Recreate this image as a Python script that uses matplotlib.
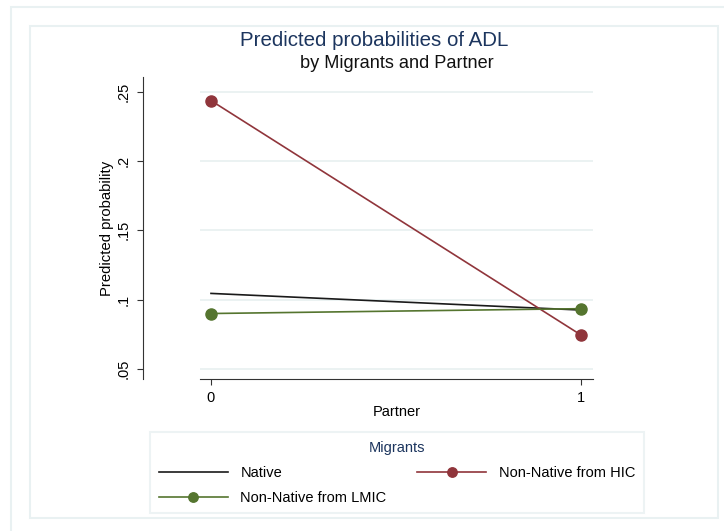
import matplotlib.pyplot as plt
from matplotlib.patches import Rectangle

# data
partner = [0, 1]
native = [0.1045, 0.0925]
hic = [0.2435, 0.0745]
lmic = [0.0900, 0.0935]
yticks = [0.05, 0.10, 0.15, 0.20, 0.25]
ytick_labels = [".05", ".1", ".15", ".2", ".25"]

plt.rcParams['font.family'] = ['Liberation Sans', 'DejaVu Sans']

W, H = 724, 531
fig = plt.figure(figsize=(W / 100, H / 100), dpi=100)

def fx(px):
    return px / W

def fy(py):
    return 1 - py / H

frame_col = '#e9f1f2'
# outer and inner frames
fig.add_artist(Rectangle((fx(11), fy(540)), fx(740 - 11), fy(7) - fy(540),
                         transform=fig.transFigure, fill=False, ec=frame_col, lw=1.5))
fig.add_artist(Rectangle((fx(30), fy(518)), fx(718 - 30), fy(26) - fy(518),
                         transform=fig.transFigure, fill=False, ec=frame_col, lw=1.5))

ax = fig.add_axes([fx(200), fy(379), fx(593 - 200), fy(77) - fy(379)])

navy = '#1c355e'
c_native = '#1a1a1a'
c_hic = '#90353b'
c_lmic = '#55752f'

l_native, = ax.plot(partner, native, color=c_native, lw=1.2, label='Native')
l_hic, = ax.plot(partner, hic, color=c_hic, lw=1.2, marker='o', ms=8, label='Non-Native from HIC')
l_lmic, = ax.plot(partner, lmic, color=c_lmic, lw=1.2, marker='o', ms=8, label='Non-Native from LMIC')

for s in ['top', 'right']:
    ax.spines[s].set_visible(False)
# spine offset in points: 57 px at 100 dpi
ax.spines['left'].set_position(('outward', 57 * 0.72))
ax.spines['left'].set_color('#333333')
ax.spines['bottom'].set_color('#333333')

ax.set_xlim(-0.0297, 1.0324)
ax.set_ylim(0.0428, 0.2605)
ax.set_yticks(yticks)
ax.set_yticklabels(ytick_labels, rotation=90, va='center', fontsize=10.5)
ax.set_xticks([0, 1])
ax.set_xticklabels(['0', '1'], fontsize=10.5)
ax.grid(axis='y', color='#e8f0f0', lw=1.2)
ax.set_axisbelow(True)
ax.tick_params(axis='both', length=4.5, color='#333333', pad=4.5)

ax.set_xlabel('Partner', fontsize=10.5, labelpad=0)
ax.set_ylabel('Predicted probability', fontsize=10.7, labelpad=2)

fig.text(fx(374), fy(40), 'Predicted probabilities of ADL', ha='center', va='center',
         fontsize=14.8, color=navy)
fig.text(fx(397), fy(63), 'by Migrants and Partner', ha='center', va='center',
         fontsize=13.1, color='#111111')

leg = fig.legend(handles=[l_native, l_lmic, l_hic], ncol=2,
                 loc='upper left', bbox_to_anchor=(fx(150), fy(432)),
                 borderaxespad=0,
                 title='Migrants', fontsize=10.5, title_fontsize=10.5,
                 handlelength=4.75, handletextpad=0.85, columnspacing=2.1,
                 labelspacing=0.75, borderpad=0.6, fancybox=False,
                 edgecolor=frame_col, markerscale=0.85)
leg.get_title().set_color(navy)
leg.get_frame().set_linewidth(1.5)

fig.savefig('out.png', dpi=100)
